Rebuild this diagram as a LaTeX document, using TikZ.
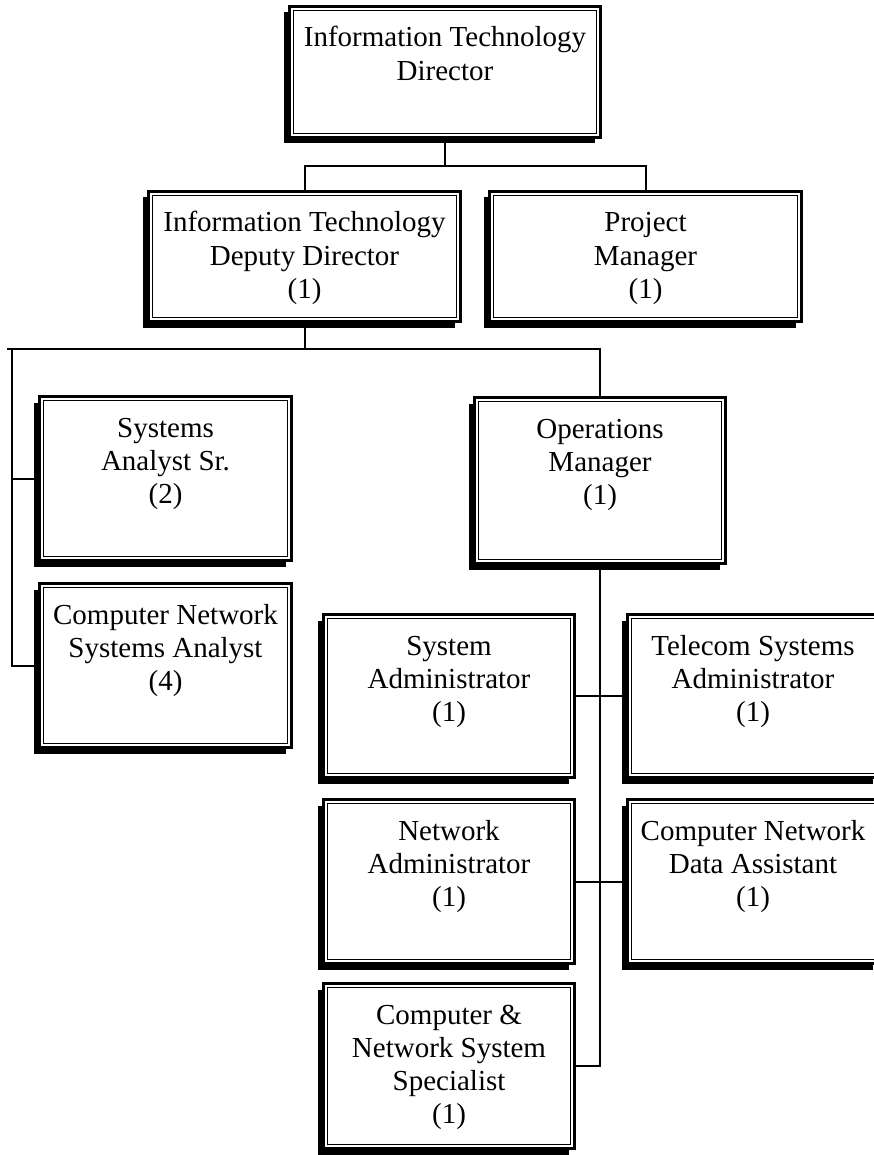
\documentclass[tikz,border=0pt]{standalone}
\usepackage{fontspec}
\setmainfont{Liberation Serif}
\usetikzlibrary{shadows}
% Top-aligned, centred lines inside a box of given width and height
\newcommand{\boxlines}[3]{\parbox[c][#2][t]{#1}{\centering\rule{0pt}{40.5pt}#3\par}}
\begin{document}
\begin{tikzpicture}[x=1pt,y=-1pt,
  unit/.style={rectangle, draw, line width=3.2pt, fill=white, inner sep=0pt,
    font=\fontsize{29}{33.3}\selectfont,
    general shadow={fill=black, shadow xshift=-6pt, shadow yshift=-6pt},
    path picture={\draw[line width=1pt]
      ([shift={(4pt,-4pt)}]path picture bounding box.north west) rectangle
      ([shift={(-4pt,4pt)}]path picture bounding box.south east);}},
  link/.style={line width=2pt}]
\useasboundingbox (0,0) rectangle (873,1155);

% boxes
\node[unit] (dir) at (445,72) {\boxlines{311pt}{131pt}{Information Technology\\Director}};
\node[unit] (dep) at (304.5,256.5) {\boxlines{312pt}{130pt}{Information Technology\\Deputy Director\\(1)}};
\node[unit] (pm) at (645.5,256.5) {\boxlines{312pt}{130pt}{Project\\Manager\\(1)}};
\node[unit] (sas) at (165.5,478.5) {\boxlines{252pt}{164pt}{Systems\\Analyst Sr.\\(2)}};
\node[unit] (cnsa) at (165.5,665.5) {\boxlines{252pt}{164pt}{Computer Network\\Systems Analyst\\(4)}};
\node[unit] (ops) at (600,480.5) {\boxlines{251pt}{166pt}{Operations\\Manager\\(1)}};
\node[unit] (sysadm) at (449,696) {\boxlines{251pt}{163pt}{System\\Administrator\\(1)}};
\node[unit] (tel) at (753,696) {\boxlines{251pt}{163pt}{Telecom Systems\\Administrator\\(1)}};
\node[unit] (netadm) at (449,881.5) {\boxlines{251pt}{164pt}{Network\\Administrator\\(1)}};
\node[unit] (cnda) at (753,881.5) {\boxlines{251pt}{164pt}{Computer Network\\Data Assistant\\(1)}};
\node[unit] (cnss) at (449,1066) {\boxlines{251pt}{165pt}{Computer \&\\Network System\\Specialist\\(1)}};

% connector levels
\coordinate (bus1) at (0,166);
\coordinate (bus2) at (0,349);
\coordinate (lend) at (7,349);
\coordinate (lv) at (12,349);

% connectors
\draw[link] (dir.south) -- (dir.south |- bus1);
\draw[link] (dep.north) |- (pm.north |- bus1) -- (pm.north);
\draw[link] (dep.south) -- (dep.south |- bus2);
\draw[link] (lend) -- (ops.north |- bus2) -- (ops.north);
\draw[link] (lv) |- (sas.west);
\draw[link] (lv) |- (cnsa.west);
\draw[link] (ops.south) |- (cnss.east);
\draw[link] (sysadm.east) -- (tel.west);
\draw[link] (netadm.east) -- (cnda.west);
\end{tikzpicture}
\end{document}
